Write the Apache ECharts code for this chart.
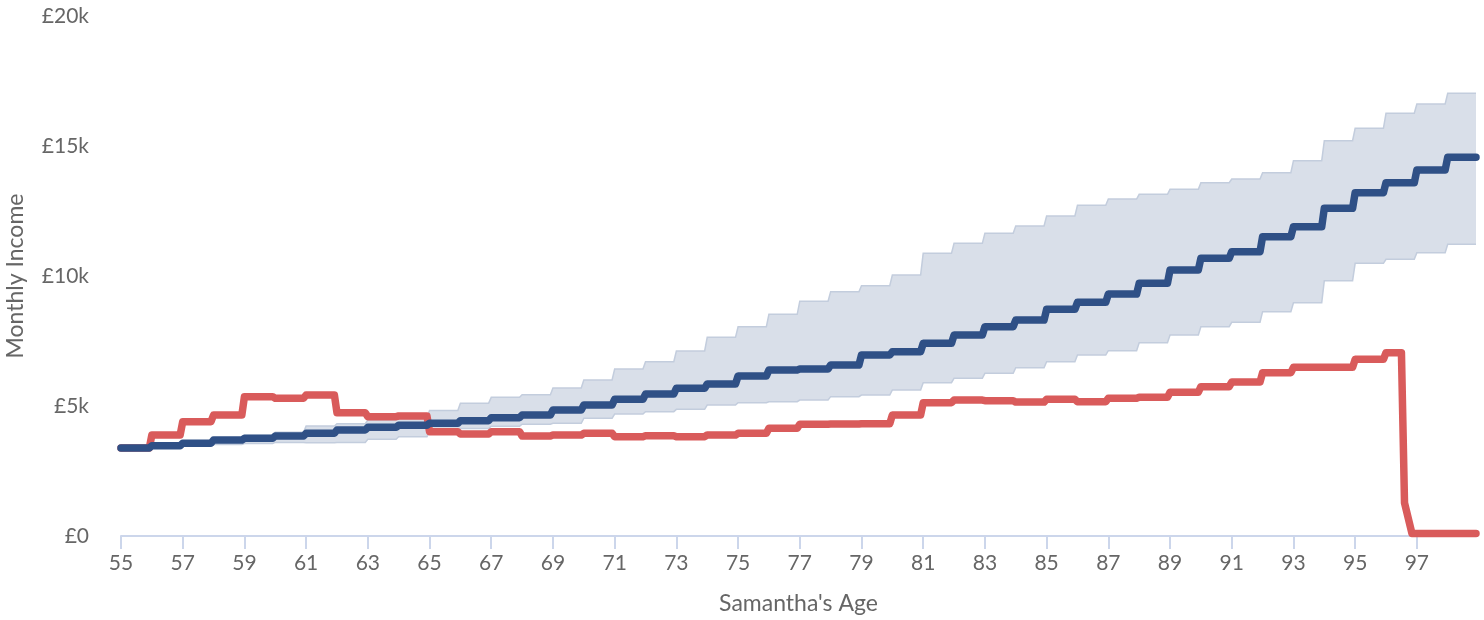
<!DOCTYPE html>
<html>
<head>
<meta charset="utf-8">
<script src="https://cdn.jsdelivr.net/npm/echarts@6/dist/echarts.min.js"></script>
<style>
  html, body { margin: 0; padding: 0; background: #ffffff; }
  #chart { width: 1484px; height: 620px; }
</style>
</head>
<body>
<div id="chart"></div>
<script>
// Ages (one value per year of age)
const ages = [55,56,57,58,59,60,61,62,63,64,65,66,67,68,69,70,71,72,73,74,75,76,77,78,79,80,81,82,83,84,85,86,87,88,89,90,91,92,93,94,95,96,97,98];
// Median projected monthly income (£)
const median = [3385,3473,3565,3692,3758,3846,3950,4077,4180,4257,4333,4436,4551,4654,4850,5038,5257,5461,5680,5846,6154,6384,6420,6577,6961,7090,7411,7730,8050,8307,8718,8987,9307,9718,10230,10680,10935,11512,11897,12603,13205,13590,14076,14565];
// Upper / lower range of projected monthly income (£)
const upperRange = [3385,3500,3620,3770,3870,3990,4230,4320,4460,4540,4830,5110,5333,5435,5690,6000,6423,6705,7115,7640,8050,8525,9030,9397,9628,10038,10872,11257,11642,11923,12307,12718,12961,13141,13333,13590,13730,13975,14437,15205,15680,16257,16615,17026];
const lowerRange = [3385,3420,3460,3520,3560,3600,3590,3600,3720,3820,4050,4130,4220,4300,4333,4526,4692,4782,4872,5038,5128,5166,5230,5359,5423,5615,5897,6064,6256,6470,6705,6961,7128,7436,7730,8050,8220,8628,8974,9820,10488,10642,10897,11220];
// Alternative income path (ages 55..95), then its final months as [age, £]
const altAges = [55,56,57,58,59,60,61,62,63,64,65,66,67,68,69,70,71,72,73,74,75,76,77,78,79,80,81,82,83,84,85,86,87,88,89,90,91,92,93,94,95];
const altIncome = [3385,3884,4397,4654,5359,5295,5423,4743,4590,4615,4013,3923,4013,3846,3884,3950,3820,3858,3820,3884,3950,4142,4300,4308,4320,4654,5128,5230,5205,5150,5257,5166,5295,5333,5526,5744,5920,6282,6487,6487,6795];
const altTail = [[96, 7050], [96.5, 7050], [96.6, 1270], [96.84, 100], [98 + 11/12, 100]];
// Axis ticks
const xTicks = [55,57,59,61,63,65,67,69,71,73,75,77,79,81,83,85,87,89,91,93,95,97];
const yTicks = [0, 5000, 10000, 15000, 20000];

const LAST_MONTH = 11 / 12;
function yearly(a, v) {
  const pts = [];
  for (let i = 0; i < a.length; i++) {
    pts.push([a[i], v[i]]);
    pts.push([a[i] + LAST_MONTH, v[i]]);
  }
  return pts;
}
const medianPts = yearly(ages, median);
const upperPts = yearly(ages, upperRange);
const lowerPts = yearly(ages, lowerRange);
const altPts = yearly(altAges, altIncome).concat(altTail);
const bandData = upperPts.map((p, i) => [p[0], lowerPts[i][1], p[1]]);

const font = 'Lato, "Noto Sans", sans-serif';
const chart = echarts.init(document.getElementById('chart'), null, { renderer: 'canvas' });
chart.setOption({
  animation: false,
  grid: { left: 121, right: 8, top: 16, bottom: 84, containLabel: false, outerBoundsMode: 'none' },
  xAxis: {
    type: 'value',
    min: 55,
    max: 98 + LAST_MONTH,
    name: "Samantha's Age",
    nameLocation: 'middle',
    nameGap: 56,
    nameTextStyle: { color: '#666666', fontSize: 23, fontFamily: font },
    axisLine: { show: true, lineStyle: { color: '#ccd6eb', width: 2 } },
    axisTick: { show: true, length: 13, lineStyle: { color: '#ccd6eb', width: 2 }, customValues: xTicks },
    axisLabel: { color: '#666666', fontSize: 21, fontFamily: font, margin: 17, customValues: xTicks },
    splitLine: { show: false }
  },
  yAxis: {
    type: 'value',
    min: 0,
    max: 20000,
    interval: 5000,
    name: 'Monthly Income',
    nameLocation: 'middle',
    nameGap: 94,
    nameTextStyle: { color: '#666666', fontSize: 23, fontFamily: font },
    axisLine: { show: false },
    axisTick: { show: false },
    axisLabel: {
      color: '#666666', fontSize: 21, fontFamily: font, margin: 32,
      customValues: yTicks,
      formatter: v => v === 0 ? '£0' : '£' + (v / 1000) + 'k'
    },
    splitLine: { show: false }
  },
  series: [
    {
      type: 'custom', name: 'range', data: bandData,
      encode: { x: 0, y: [1, 2] },
      z: 1,
      renderItem: function (params, api) {
        if (params.dataIndex !== 0) return null;
        const up = bandData.map(d => api.coord([d[0], d[2]]));
        const lo = bandData.map(d => api.coord([d[0], d[1]]));
        const poly = up.concat(lo.slice().reverse());
        return {
          type: 'group',
          children: [
            { type: 'polygon', shape: { points: poly }, style: { fill: '#d9dfe9', stroke: null } },
            { type: 'polyline', shape: { points: up }, style: { fill: null, stroke: '#c3cddd', lineWidth: 1.5 } },
            { type: 'polyline', shape: { points: lo }, style: { fill: null, stroke: '#c3cddd', lineWidth: 1.5 } }
          ]
        };
      }
    },
    {
      type: 'line', name: 'alt', data: altPts,
      showSymbol: false, symbol: 'none',
      lineStyle: { color: '#d95b5b', width: 7.5, join: 'round', cap: 'round' },
      z: 3
    },
    {
      type: 'line', name: 'median', data: medianPts,
      showSymbol: false, symbol: 'none',
      lineStyle: { color: '#2f5086', width: 7.5, join: 'round', cap: 'round' },
      z: 4
    }
  ]
});
</script>
</body>
</html>
